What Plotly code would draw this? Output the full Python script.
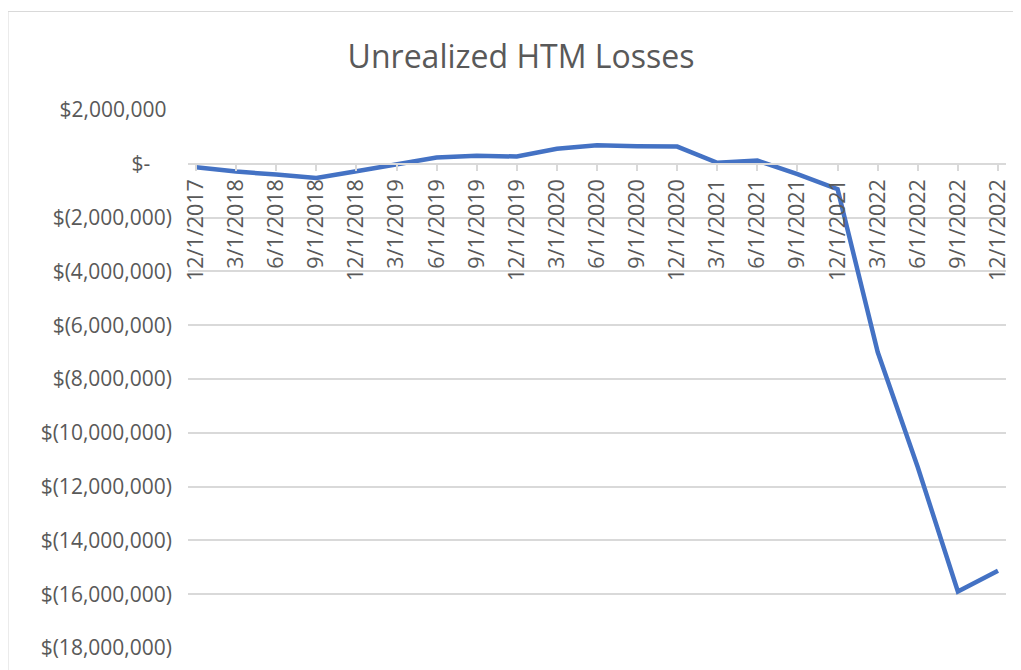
import plotly.graph_objects as go

dates = ["12/1/2017", "3/1/2018", "6/1/2018", "9/1/2018", "12/1/2018", "3/1/2019",
         "6/1/2019", "9/1/2019", "12/1/2019", "3/1/2020", "6/1/2020", "9/1/2020",
         "12/1/2020", "3/1/2021", "6/1/2021", "9/1/2021", "12/1/2021", "3/1/2022",
         "6/1/2022", "9/1/2022", "12/1/2022"]
losses = [-130000, -290000, -400000, -530000, -280000, -30000,
          230000, 300000, 270000, 560000, 690000, 650000,
          640000, 40000, 120000, -380000, -940000, -7000000,
          -11280000, -15900000, -15130000]

y_ticks = [2000000, 0, -2000000, -4000000, -6000000, -8000000, -10000000,
           -12000000, -14000000, -16000000, -18000000]
y_labels = ["$2,000,000\u00a0", "$-\u00a0\u00a0\u00a0\u00a0", "$(2,000,000)", "$(4,000,000)",
            "$(6,000,000)", "$(8,000,000)", "$(10,000,000)", "$(12,000,000)",
            "$(14,000,000)", "$(16,000,000)", "$(18,000,000)"]

# page body adds an 8px offset; work in screen coordinates then shift
OFF = 8
W, H = 1021, 670
S_L, S_R, S_T, S_B = 188, 1005.7, 110, 648   # plot area in screen pixels
L = S_L - OFF
T = S_T - OFF
R = W - (S_R - OFF)
B = H - (S_B - OFF)
pw, ph = W - L - R, H - T - B

def px(x):
    return (x - S_L) / pw

def py(y):
    return (S_B - y) / ph

FONT = "Open Sans"
GREY = "#595959"

fig = go.Figure()
fig.add_trace(go.Scatter(
    x=dates, y=losses, mode="lines",
    line=dict(color="#4472C4", width=4.5),
    xaxis="x", yaxis="y", showlegend=False,
))

fig.update_layout(
    width=W, height=H,
    margin=dict(l=L, r=R, t=T, b=B),
    paper_bgcolor="white", plot_bgcolor="white",
    title=dict(text="Unrealized HTM Losses", x=(521 - OFF) / W, xref="container", xanchor="center",
               y=1 - (57 - OFF) / H, yref="container", yanchor="middle",
               font=dict(family=FONT, size=32, color=GREY)),
    xaxis=dict(
        type="category", range=[-0.2, 20.2],
        anchor="free", position=0.9,
        tickangle=-90, tickfont=dict(family=FONT, size=21.5, color=GREY),
        ticks="outside", ticklen=6, tickcolor="#d9d9d9", tickwidth=1.5,
        showline=True, linecolor="#d9d9d9", linewidth=1.5,
        showgrid=False, zeroline=False,
    ),
    yaxis=dict(
        range=[-18000000, 2000000], domain=[0, 1],
        tickvals=y_ticks, ticktext=y_labels,
        tickfont=dict(family=FONT, size=21, color=GREY),
        showgrid=True, gridcolor="#d9d9d9", gridwidth=1.5,
        zeroline=False, showline=False, ticks="", ticklabelstandoff=15,
    ),
    shapes=[dict(type="rect", xref="paper", yref="paper",
                 x0=px(8), x1=px(1040), y0=py(720), y1=py(11.5),
                 line=dict(color="#d9d9d9", width=1.2), fillcolor="rgba(0,0,0,0)",
                 layer="below")],
)

fig.write_html("out.html")
